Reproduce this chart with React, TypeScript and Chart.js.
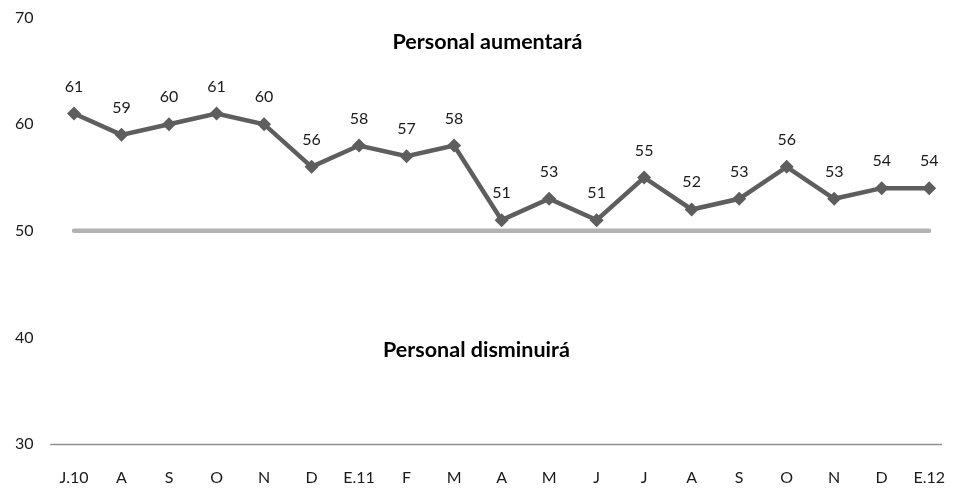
import React, { useEffect, useRef } from "react";
import { Chart, registerables } from "chart.js";

Chart.register(...registerables);

const categories = ["J.10", "A", "S", "O", "N", "D", "E.11", "F", "M", "A", "M", "J", "J", "A", "S", "O", "N", "D", "E.12"];
const values = [61, 59, 60, 61, 60, 56, 58, 57, 58, 51, 53, 51, 55, 52, 53, 56, 53, 54, 54];
const thresholdValue = 50;
const yMin = 30;
const yMax = 70;
const yStep = 10;
const annotationTexts = ["Personal aumentará", "Personal disminuirá"];
const annotationIndex = [8.7, 8.47];
const annotationBaseline = [67.1, 38.2];

const FONT = "Lato, 'Open Sans', sans-serif";

const decorPlugin = {
  id: "decor",
  beforeDatasetsDraw(chart: any) {
    const { ctx, chartArea, scales } = chart;
    const step = (chartArea.right - chartArea.left) / (categories.length - 1);
    const y = Math.round(scales.y.getPixelForValue(yMin)) + 0.5;
    ctx.save();
    ctx.strokeStyle = "#8f8f8f";
    ctx.lineWidth = 1.5;
    ctx.beginPath();
    ctx.moveTo(chartArea.left - step / 2, y);
    ctx.lineTo(chartArea.right + step * 0.27, y);
    ctx.stroke();
    ctx.restore();
  },
  afterDatasetsDraw(chart: any) {
    const { ctx, chartArea, scales } = chart;
    const meta = chart.getDatasetMeta(1);
    const step = (chartArea.right - chartArea.left) / (categories.length - 1);
    ctx.save();
    ctx.fillStyle = "#1a1a1a";
    ctx.font = `16px ${FONT}`;
    ctx.textAlign = "center";
    ctx.textBaseline = "alphabetic";
    meta.data.forEach((pt: any, i: number) => {
      ctx.fillText(String(values[i]), pt.x, pt.y - 22);
    });
    ctx.font = `bold 21.5px ${FONT}`;
    ctx.fillStyle = "#000";
    annotationTexts.forEach((t, i) => {
      ctx.fillText(t, chartArea.left + annotationIndex[i] * step, scales.y.getPixelForValue(annotationBaseline[i]));
    });
    ctx.restore();
  },
};

export default function App() {
  const ref = useRef<HTMLCanvasElement | null>(null);
  useEffect(() => {
    if (!ref.current) return;
    const chart = new Chart(ref.current, {
      type: "line",
      data: {
        labels: categories,
        datasets: [
          {
            label: "Referencia",
            data: categories.map(() => thresholdValue),
            borderColor: "#b3b3b3",
            borderWidth: 4.5,
            borderCapStyle: "round",
            pointRadius: 0,
            order: 2,
          },
          {
            label: "Personal",
            data: values,
            borderColor: "#5e5e5e",
            backgroundColor: "#5e5e5e",
            borderWidth: 4.5,
            pointStyle: "rectRot",
            pointRadius: 7,
            pointBackgroundColor: "#5e5e5e",
            pointBorderColor: "#5e5e5e",
            pointBorderWidth: 0,
            tension: 0,
            order: 1,
          },
        ],
      },
      plugins: [decorPlugin],
      options: {
        animation: false,
        responsive: true,
        maintainAspectRatio: false,
        layout: { padding: { left: 7, right: 15, top: 0, bottom: 0 } },
        plugins: { legend: { display: false }, tooltip: { enabled: false } },
        scales: {
          x: {
            offset: false,
            grid: { display: true, drawOnChartArea: false, drawTicks: true, tickLength: 24, color: "rgba(0,0,0,0)" },
            border: { display: false },
            ticks: { color: "#1a1a1a", font: { family: FONT, size: 16 }, padding: 0, maxRotation: 0, autoSkip: false },
            afterFit: (s: any) => { s.height = 45; },
          },
          y: {
            min: yMin,
            max: yMax,
            grid: { display: false, drawTicks: false },
            border: { display: false },
            ticks: { stepSize: yStep, color: "#1a1a1a", font: { family: FONT, size: 16 }, padding: 0, crossAlign: "far" },
            afterFit: (s: any) => { s.width = 59; },
          },
        },
      },
    });
    return () => chart.destroy();
  }, []);
  return (
    <div style={{ width: "100%", height: 481, position: "relative" }}>
      <canvas ref={ref} />
    </div>
  );
}
